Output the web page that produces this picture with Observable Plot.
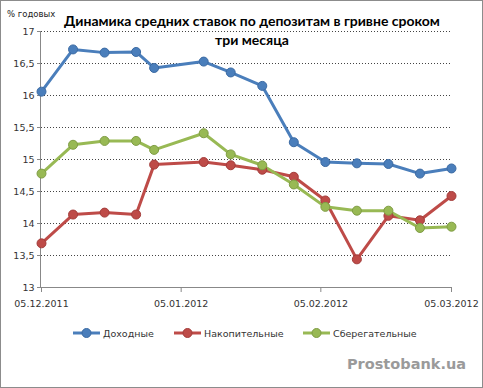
<!DOCTYPE html>
<html>
<head>
<meta charset="utf-8">
<script src="https://cdn.jsdelivr.net/npm/d3@7"></script>
<script src="https://cdn.jsdelivr.net/npm/@observablehq/plot@0.6"></script>
<style>
  html, body { margin: 0; padding: 0; background: #fff; }
  #chart svg { display: block; }
</style>
</head>
<body>
<div id="chart"></div>
<script>
const dates = ["05.12.2011","12.12.2011","19.12.2011","26.12.2011","30.12.2011","10.01.2012","16.01.2012","23.01.2012","30.01.2012","06.02.2012","13.02.2012","20.02.2012","27.02.2012","05.03.2012"];
const dohodnye      = [16.06,16.72,16.67,16.68,16.43,16.53,16.36,16.15,15.27,14.96,14.94,14.93,14.78,14.86];
const nakopitelnye  = [13.69,14.14,14.17,14.14,14.92,14.96,14.91,14.84,14.73,14.36,13.44,14.12,14.05,14.43];
const sberegatelnye = [14.78,15.23,15.29,15.29,15.15,15.41,15.08,14.91,14.61,14.26,14.20,14.20,13.93,13.95];
const seriesNames = ["Доходные","Накопительные","Сберегательные"];
const seriesColors = ["#4a7ebb","#be4b48","#98b954"];
const seriesStrokes = ["#3b6aa3","#a33c3a","#7f9c44"];
const xTickLabels = ["05.12.2011","05.01.2012","05.02.2012","05.03.2012"];
const yTicks = [13,13.5,14,14.5,15,15.5,16,16.5,17];
const title1 = "Динамика средних ставок по депозитам в гривне сроком";
const title2 = "три месяца";
const yUnit = "% годовых";
const watermark = "Prostobank.ua";

const parse = d3.utcParse("%d.%m.%Y");
const seriesValues = [dohodnye, nakopitelnye, sberegatelnye];
const data = [];
seriesNames.forEach((s, i) => {
  dates.forEach((d, j) => data.push({series: s, date: parse(d), value: seriesValues[i][j]}));
});

const W = 483, H = 388;
const chart = Plot.plot({
  width: W,
  height: H,
  marginLeft: 41,
  marginRight: 32,
  marginTop: 31,
  marginBottom: 101,
  style: {fontFamily: "DejaVu Sans", fontSize: "9.5px", color: "#333", background: "#fff"},
  x: {type: "utc", domain: [parse(xTickLabels[0]), parse(xTickLabels[3])]},
  y: {domain: [13, 17]},
  color: {domain: seriesNames, range: seriesColors},
  marks: [
    Plot.ruleY(yTicks.filter(t => t > 13), {stroke: "#444", strokeDasharray: "1,2", strokeWidth: 1}),
    Plot.ruleY([13], {stroke: "#888"}),
    Plot.ruleX([parse(xTickLabels[0])], {stroke: "#888", dx: -1}),
    Plot.axisY({ticks: yTicks, tickSize: 4, tickPadding: 3, stroke: "#888",
      tickFormat: d => String(d).replace(".", ","), label: null, fill: "#333"}),
    Plot.axisX({ticks: xTickLabels.map(parse), tickSize: 5, tickPadding: 8, stroke: "#888",
      tickFormat: d3.utcFormat("%d.%m.%Y"), label: null, fill: "#333"}),
    Plot.line(data, {x: "date", y: "value", z: "series", stroke: "series", strokeWidth: 3}),
    Plot.dot(data, {x: "date", y: "value", fill: "series", r: 4.5,
      stroke: d => seriesStrokes[seriesNames.indexOf(d.series)], strokeWidth: 1})
  ]
});

const svg = d3.select(chart);
svg.append("rect").attr("x", 0.5).attr("y", 0.5).attr("width", W - 1).attr("height", H - 1)
  .attr("fill", "none").attr("stroke", "#8c8c8c");
svg.append("text").attr("x", 252).attr("y", 26).attr("text-anchor", "middle")
  .attr("font-family", "Lato").attr("font-weight", "bold").attr("font-size", 14).attr("fill", "#000").text(title1);
svg.append("text").attr("x", 252).attr("y", 45).attr("text-anchor", "middle")
  .attr("font-family", "Lato").attr("font-weight", "bold").attr("font-size", 14).attr("fill", "#000").text(title2);
svg.append("text").attr("x", 7).attr("y", 17).attr("text-anchor", "start")
  .attr("font-family", "DejaVu Sans").attr("font-size", 8.5).attr("fill", "#222").text(yUnit);
const legendX = [73, 174, 303];
seriesNames.forEach((s, i) => {
  const g = svg.append("g");
  const x0 = legendX[i], y0 = 333;
  g.append("line").attr("x1", x0).attr("x2", x0 + 27).attr("y1", y0).attr("y2", y0)
    .attr("stroke", seriesColors[i]).attr("stroke-width", 3);
  g.append("circle").attr("cx", x0 + 13.5).attr("cy", y0).attr("r", 4.5)
    .attr("fill", seriesColors[i]).attr("stroke", seriesStrokes[i]);
  g.append("text").attr("x", x0 + 30).attr("y", y0 + 3.5).attr("text-anchor", "start")
    .attr("font-family", "DejaVu Sans").attr("font-size", 9.5).attr("fill", "#333").text(s);
});
svg.append("text").attr("x", 466).attr("y", 369).attr("text-anchor", "end")
  .attr("font-family", "DejaVu Sans").attr("font-weight", "bold").attr("font-size", 14.5)
  .attr("fill", "#9a9a9a").text(watermark);

document.getElementById("chart").appendChild(chart);
</script>
</body>
</html>
